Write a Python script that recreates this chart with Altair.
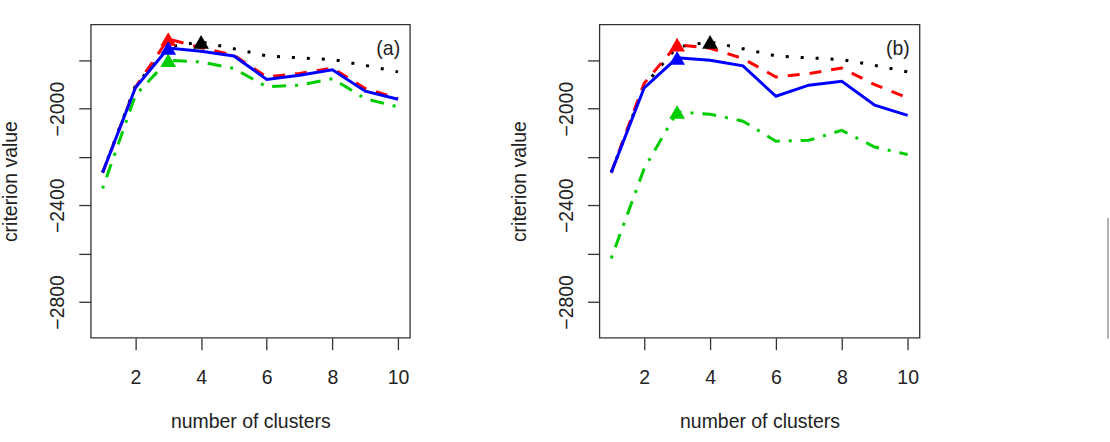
import altair as alt
import pandas as pd

# ---- data ----
clusters = [1, 2, 3, 4, 5, 6, 7, 8, 9, 10]

black_a = [-2265, -1905, -1745, -1724, -1752, -1782, -1790, -1797, -1821, -1848]
red_a = [-2265, -1912, -1712, -1748, -1779, -1869, -1855, -1832, -1917, -1958]
green_a = [-2331, -1945, -1800, -1807, -1834, -1910, -1903, -1876, -1959, -1993]
blue_a = [-2265, -1914, -1749, -1763, -1782, -1879, -1862, -1839, -1928, -1961]

black_b = [-2265, -1905, -1745, -1724, -1752, -1782, -1790, -1797, -1821, -1848]
red_b = [-2265, -1895, -1735, -1750, -1793, -1869, -1855, -1832, -1901, -1956]
green_b = [-2620, -2248, -2014, -2023, -2052, -2135, -2131, -2090, -2159, -2190]
blue_b = [-2265, -1914, -1790, -1800, -1823, -1949, -1903, -1887, -1986, -2028]

x_ticks = [2, 4, 6, 8, 10]
y_ticks = [-2800, -2600, -2400, -2200, -2000, -1800]
panel_labels = ["(a)", "(b)"]
label_pos = [9.7, -1752]

FONT = "Liberation Sans"
FS = 19.5
STYLES = {
    "black": ("#000000", [3, 12]),
    "red": ("#ff0000", [12, 10]),
    "green": ("#00cd00", [3, 9, 14, 9]),
    "blue": ("#0000ff", None),
}


def make_x():
    return alt.X(
        "k:Q",
        scale=alt.Scale(domain=[0.64, 10.36], nice=False, zero=False),
        axis=alt.Axis(
            values=x_ticks, title="number of clusters", grid=False, domain=False,
            tickSize=12, tickWidth=1.3, tickColor="#333",
            labelBaseline="alphabetic", labelPadding=34, labelFlush=False,
            titleY=90.5, titleBaseline="alphabetic",
        ),
    )


def make_y():
    return alt.Y(
        "v:Q",
        scale=alt.Scale(domain=[-2948, -1652], nice=False, zero=False),
        axis=alt.Axis(
            values=y_ticks, title="criterion value", grid=False, domain=False,
            tickSize=12, tickWidth=1.3, tickColor="#333", format="d",
            labelExpr="datum.value % 400 == 0 ? datum.label : ''",
            labelAngle=270, labelAlign="center", labelBaseline="alphabetic",
            labelPadding=15, labelFlush=False,
            titleAngle=270, titleX=-74, titleY=157, titleAlign="center",
            titleBaseline="alphabetic",
        ),
    )


def panel(series, label, width, extra=None):
    layers = []
    for name in ["black", "red", "green", "blue"]:
        color, dash = STYLES[name]
        df = pd.DataFrame({"k": clusters, "v": series[name]})
        kw = dict(color=color, strokeWidth=3, strokeCap="butt")
        if dash:
            kw["strokeDash"] = dash
        layers.append(alt.Chart(df).mark_line(**kw).encode(x=make_x(), y=make_y()))
    for name in ["black", "red", "green", "blue"]:
        color, _ = STYLES[name]
        vals = series[name]
        i = vals.index(max(vals))
        dm = pd.DataFrame({"k": [clusters[i]], "v": [vals[i]]})
        layers.append(
            alt.Chart(dm).mark_point(shape="triangle-up", filled=True, size=250,
                                     color=color, opacity=1)
            .encode(x=make_x(), y=make_y())
        )
    dl = pd.DataFrame({"k": [label_pos[0]], "v": [label_pos[1]], "t": [label]})
    layers.append(
        alt.Chart(dl).mark_text(font=FONT, fontSize=FS, color="#222",
                                align="center", baseline="middle")
        .encode(x=make_x(), y=make_y(), text="t:N")
    )
    if extra is not None:
        layers.append(extra)
    return alt.layer(*layers).properties(width=width, height=314)


rule = alt.Chart(pd.DataFrame({"a": [0]})).mark_rule(color="#9a9a9a", strokeWidth=1.5).encode(
    x=alt.value(510), y=alt.value(194), y2=alt.value(315)
)

pa = panel({"black": black_a, "red": red_a, "green": green_a, "blue": blue_a}, panel_labels[0], 320)
pb = panel({"black": black_b, "red": red_b, "green": green_b, "blue": blue_b}, panel_labels[1], 321, rule)

chart = (
    alt.hconcat(pa, pb, spacing=98)
    .properties(padding={"left": 0, "top": 23, "right": 0, "bottom": 0}, background="white")
    .configure_view(stroke="#333", strokeWidth=1.3)
    .configure_axis(labelFont=FONT, titleFont=FONT, labelFontSize=FS, titleFontSize=FS,
                    labelColor="#222", titleColor="#222", titleFontWeight="normal")
)

chart.save("out.html", embed_options={"renderer": "svg", "actions": False})
